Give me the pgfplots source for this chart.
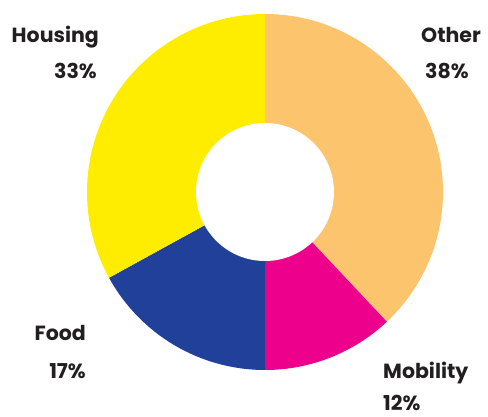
\documentclass[border=0pt]{standalone}
\usepackage{pgfplots}
\usepackage{pgfplotstable}
\usepackage{fontspec}
\setmainfont{Poppins}
\pgfplotsset{compat=1.18}
\definecolor{cOther}{HTML}{FDC46E}
\definecolor{cMob}{HTML}{EC008C}
\definecolor{cFood}{HTML}{21409A}
\definecolor{cHouse}{HTML}{FFED00}
\definecolor{txt}{HTML}{231F20}
\tikzset{lbl/.style={font=\bfseries\fontsize{20.5}{24}\selectfont, text=txt, inner sep=0pt}}

% share of spending, clockwise from 12 o'clock
\pgfplotstableread{
label pct col
Other 38 cOther
Mobility 12 cMob
Food 17 cFood
Housing 33 cHouse
}\datatable

\begin{document}
\begin{tikzpicture}
\begin{axis}[
    scale only axis,
    width=488pt, height=416pt,
    xmin=0, xmax=488, ymin=0, ymax=416,
    hide axis,
    clip=false,
]
\path (axis cs:0,0) rectangle (axis cs:488,416);
\def\cum{0}
\pgfplotsforeachungrouped \i in {0,...,3}{
  \pgfplotstablegetelem{\i}{pct}\of\datatable \let\p\pgfplotsretval
  \pgfplotstablegetelem{\i}{col}\of\datatable \let\c\pgfplotsretval
  \pgfmathsetmacro\a{90-3.6*\cum}
  \pgfmathsetmacro\b{90-3.6*(\cum+\p)}
  \edef\temp{\noexpand\fill[\c] (axis cs:265,224) -- ++(\a:178pt)
     arc[start angle=\a, end angle=\b, radius=178pt] -- cycle;}
  \temp
  \pgfmathsetmacro\cum{\cum+\p}
}
\fill[white] (axis cs:265,224) circle[radius=69pt];

\node[lbl, anchor=base east] at (axis cs:99,373) {Housing};
\node[lbl, anchor=base east] at (axis cs:97,337) {33\%};
\node[lbl, anchor=base west] at (axis cs:421,373) {Other};
\node[lbl, anchor=base west] at (axis cs:425,337) {38\%};
\node[lbl, anchor=base west] at (axis cs:383,38) {Mobility};
\node[lbl, anchor=base west] at (axis cs:383,6) {12\%};
\node[lbl, anchor=base east] at (axis cs:86,76) {Food};
\node[lbl, anchor=base east] at (axis cs:86,38) {17\%};
\end{axis}
\end{tikzpicture}
\end{document}
